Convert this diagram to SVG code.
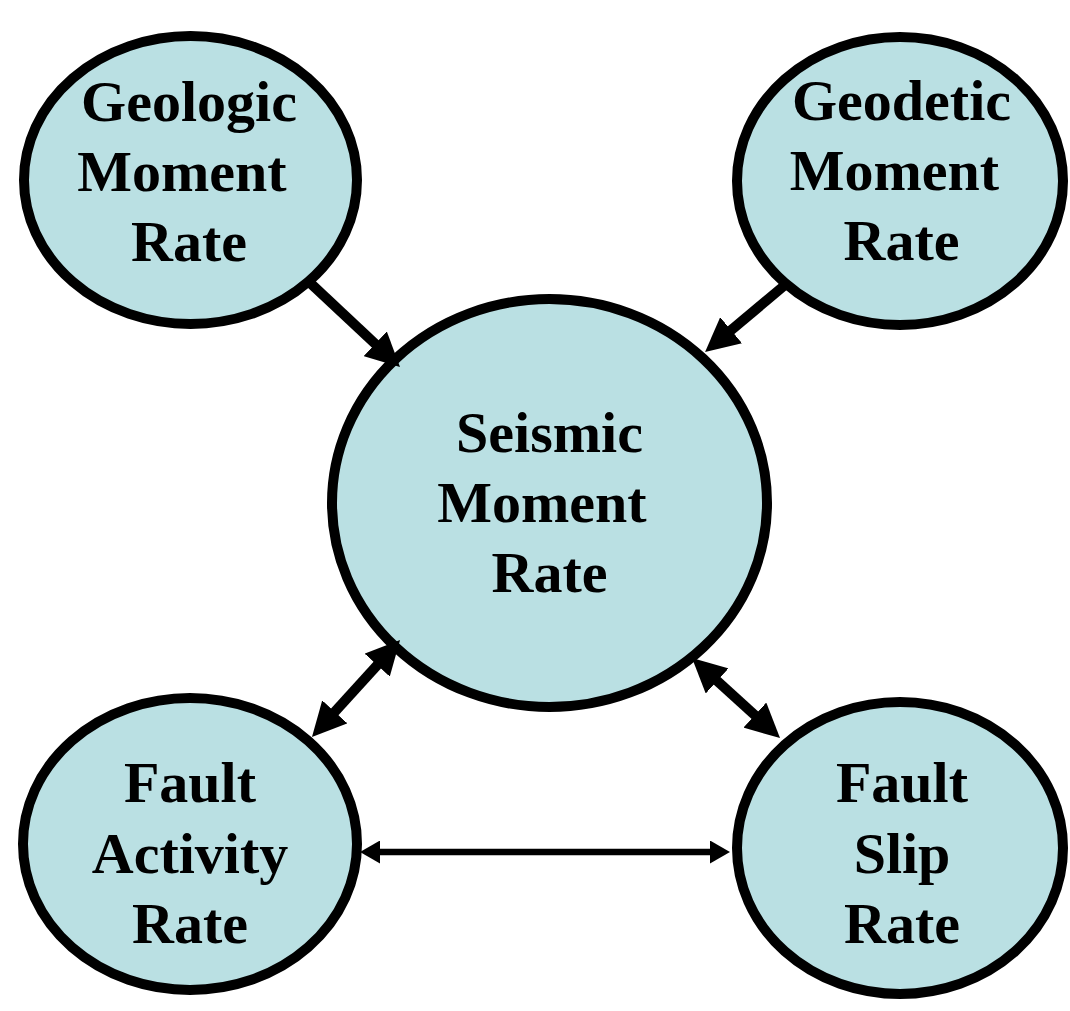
<svg xmlns="http://www.w3.org/2000/svg" width="1070" height="1011" viewBox="0 0 1070 1011">
  <style>
    .node { fill: #BAE0E3; stroke: #000; stroke-width: 10; }
    .lbl { font-family: "Liberation Serif", "Times New Roman", serif; font-weight: bold; font-size: 58px; fill: #000; text-anchor: middle; }
    .conn { stroke: #000; stroke-width: 10; fill: none; }
    .thin { stroke: #000; stroke-width: 6.5; fill: none; }
  </style>
  <defs>
    <marker id="big" markerUnits="userSpaceOnUse" viewBox="0 0 34 34" markerWidth="34" markerHeight="34" refX="14" refY="17" orient="auto-start-reverse">
      <path d="M0,0 L34,17 L0,34 z" fill="#000"/>
    </marker>
    <marker id="small" markerUnits="userSpaceOnUse" viewBox="0 0 20 23" markerWidth="20" markerHeight="23" refX="10" refY="11.5" orient="auto-start-reverse">
      <path d="M0,0 L20,11.5 L0,23 z" fill="#000"/>
    </marker>
  </defs>
  <rect width="1070" height="1011" fill="#fff"/>

  <g id="geologic">
    <ellipse class="node" cx="190.5" cy="180" rx="166.5" ry="144"/>
    <text class="lbl" x="189" y="121">Geologic</text>
    <text class="lbl" x="182" y="191">Moment</text>
    <text class="lbl" x="189" y="261">Rate</text>
  </g>
  <g id="geodetic">
    <ellipse class="node" cx="900" cy="181" rx="163" ry="144"/>
    <text class="lbl" x="901.5" y="120">Geodetic</text>
    <text class="lbl" x="894.5" y="190">Moment</text>
    <text class="lbl" x="901.5" y="260">Rate</text>
  </g>
  <g id="seismic">
    <ellipse class="node" cx="549.5" cy="503" rx="217.5" ry="204"/>
    <text class="lbl" x="549.5" y="451.5">Seismic</text>
    <text class="lbl" x="542" y="521.5">Moment</text>
    <text class="lbl" x="549.5" y="591.5">Rate</text>
  </g>
  <g id="fault-activity">
    <ellipse class="node" cx="190" cy="844" rx="167" ry="146"/>
    <text class="lbl" x="190" y="802">Fault</text>
    <text class="lbl" x="190" y="872.5">Activity</text>
    <text class="lbl" x="190" y="943">Rate</text>
  </g>
  <g id="fault-slip">
    <ellipse class="node" cx="900" cy="848" rx="163" ry="146"/>
    <text class="lbl" x="902" y="802">Fault</text>
    <text class="lbl" x="902" y="873">Slip</text>
    <text class="lbl" x="902" y="943">Rate</text>
  </g>

  <g id="connectors">
    <line class="conn" x1="307" y1="280" x2="385.4" y2="353.4" marker-end="url(#big)"/>
    <line class="conn" x1="785" y1="285" x2="720.4" y2="339.2" marker-end="url(#big)"/>
    <line class="conn" x1="386.6" y1="654.8" x2="325.4" y2="722.2" marker-start="url(#big)" marker-end="url(#big)"/>
    <line class="conn" x1="706.8" y1="671.5" x2="765.2" y2="724.5" marker-start="url(#big)" marker-end="url(#big)"/>
    <line class="thin" x1="370" y1="852" x2="720" y2="852" marker-start="url(#small)" marker-end="url(#small)"/>
  </g>
</svg>
